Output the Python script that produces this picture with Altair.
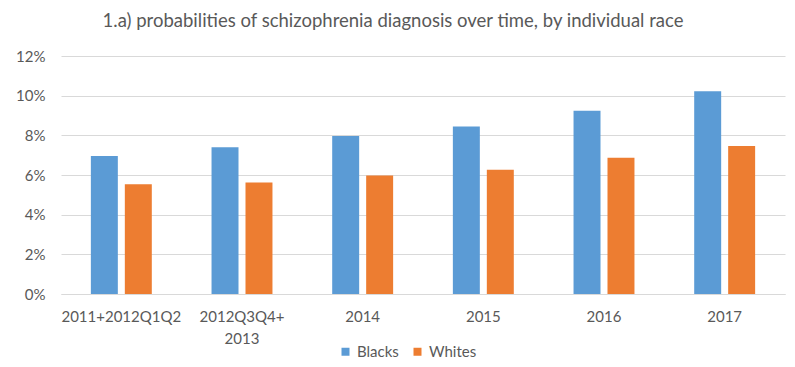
import altair as alt
import pandas as pd

categories = ["2011+2012Q1Q2", "2012Q3Q4+2013", "2014", "2015", "2016", "2017"]
blacks = [0.0696, 0.0740, 0.0797, 0.0844, 0.0924, 0.1022]
whites = [0.0553, 0.0562, 0.0597, 0.0627, 0.0687, 0.0746]
series = ["Blacks", "Whites"]

rows = []
for c, b, w in zip(categories, blacks, whites):
    rows.append({"period": c, "race": "Blacks", "p": b})
    rows.append({"period": c, "race": "Whites", "p": w})
df = pd.DataFrame(rows)

FONT = "Lato"
GRAY = "#595959"

chart = alt.Chart(df).mark_bar().encode(
    x=alt.X("period:N", sort=categories, title=None,
            scale=alt.Scale(paddingInner=0.495, paddingOuter=0.2475),
            axis=alt.Axis(labelAngle=0, labelFontSize=15, labelColor=GRAY, labelFont=FONT,
                          domainColor="#d9d9d9", ticks=False, labelPadding=15,
                          labelExpr="datum.label == '2012Q3Q4+2013' ? ['2012Q3Q4+', '2013'] : datum.label",
                          labelLineHeight=22)),
    xOffset=alt.XOffset("race:N", sort=series, scale=alt.Scale(paddingInner=0.206, paddingOuter=0)),
    y=alt.Y("p:Q", title=None,
            scale=alt.Scale(domain=[0, 0.12]),
            axis=alt.Axis(format=".0%", values=[0, 0.02, 0.04, 0.06, 0.08, 0.1, 0.12],
                          labelFontSize=15, labelColor=GRAY, labelFont=FONT,
                          domain=False, ticks=False, labelPadding=16,
                          gridColor="#d9d9d9", gridWidth=1)),
    color=alt.Color("race:N", sort=series, title=None,
                    scale=alt.Scale(domain=series, range=["#5B9BD5", "#ED7D31"]),
                    legend=alt.Legend(orient="none", legendX=277, legendY=288, direction="horizontal",
                                      symbolType="square", symbolSize=64, symbolStrokeWidth=0,
                                      labelFontSize=15, labelColor=GRAY, labelFont=FONT,
                                      columnPadding=11, labelOffset=4, symbolOffset=0)),
).properties(
    width=724, height=238,
    title=alt.Title("1.a) probabilities of schizophrenia diagnosis over time, by individual race",
                    fontSize=18.5, font=FONT, color=GRAY, fontWeight="normal",
                    anchor="middle", dx=-30, offset=19),
    autosize=alt.AutoSizeParams(type="none"),
    padding={"left": 53, "top": 48, "right": 2, "bottom": 70},
).configure_view(stroke=None)

chart.save("out.html", embed_options={"renderer": "svg", "actions": False})
